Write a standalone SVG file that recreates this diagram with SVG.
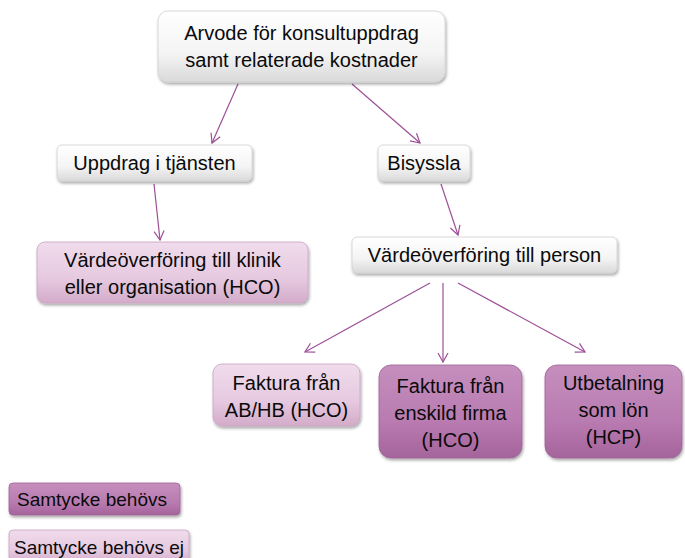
<svg xmlns="http://www.w3.org/2000/svg" width="685" height="558" viewBox="0 0 685 558">
<defs>
<linearGradient id="gw" x1="0" y1="0" x2="0" y2="1"><stop offset="0" stop-color="#ffffff"/><stop offset="0.6" stop-color="#f4f4f4"/><stop offset="1" stop-color="#d9d9d9"/></linearGradient>
<linearGradient id="gl" x1="0" y1="0" x2="0" y2="1"><stop offset="0" stop-color="#f0dcec"/><stop offset="0.6" stop-color="#e6c9e0"/><stop offset="1" stop-color="#d3abc9"/></linearGradient>
<linearGradient id="gd" x1="0" y1="0" x2="0" y2="1"><stop offset="0" stop-color="#c58fbd"/><stop offset="0.6" stop-color="#b97bb1"/><stop offset="1" stop-color="#a5649c"/></linearGradient>
<filter id="sh" x="-10%" y="-20%" width="120%" height="150%"><feDropShadow dx="1" dy="2" stdDeviation="1.5" flood-color="#000" flood-opacity="0.35"/></filter>
<marker id="ar" markerWidth="12" markerHeight="12" refX="10" refY="6" orient="auto" markerUnits="userSpaceOnUse"><polyline points="1,1 10,6 1,11" fill="none" stroke="#9c4f97" stroke-width="1.2"/></marker>
</defs>
<style>
.w{fill:url(#gw);stroke:#d0d0d0;stroke-width:0.8;filter:url(#sh)}
.l{fill:url(#gl);stroke:#c9a3c1;stroke-width:0.8;filter:url(#sh)}
.d{fill:url(#gd);stroke:#9e6296;stroke-width:0.8;filter:url(#sh)}
text{font-family:"Liberation Sans",Arial,sans-serif;font-size:20px;fill:#0a0a0a;text-anchor:middle}
.s{font-size:19px}
.c line{stroke:#9c4f97;stroke-width:1.2;marker-end:url(#ar)}
</style>
<rect width="685" height="558" fill="#fff"/>
<g class="c" id="connectors">
<line x1="238" y1="84" x2="212" y2="143"/>
<line x1="352" y1="84" x2="420" y2="143"/>
<line x1="154" y1="184" x2="160" y2="240"/>
<line x1="441" y1="184" x2="458" y2="235"/>
<line x1="430" y1="283" x2="305" y2="352"/>
<line x1="443" y1="283" x2="443" y2="362"/>
<line x1="458" y1="283" x2="585" y2="352"/>
</g>
<g id="top"><rect class="w" x="158" y="11" width="287" height="71" rx="10"/><text x="301.5" y="40">Arvode för konsultuppdrag</text><text x="301.5" y="67">samt relaterade kostnader</text></g>
<g id="uppdrag"><rect class="w" x="57" y="145" width="195" height="36" rx="5"/><text x="154.5" y="170">Uppdrag i tjänsten</text></g>
<g id="bisyssla"><rect class="w" x="378" y="145" width="92" height="36" rx="5"/><text x="424" y="170">Bisyssla</text></g>
<g id="klinik"><rect class="l" x="37" y="242" width="271" height="61" rx="8"/><text x="172.5" y="267">Värdeöverföring till klinik</text><text x="172.5" y="294">eller organisation (HCO)</text></g>
<g id="person"><rect class="w" x="352" y="237" width="265" height="36" rx="5"/><text x="484.5" y="262">Värdeöverföring till person</text></g>
<g id="abhb"><rect class="l" x="213" y="364" width="147" height="62" rx="9"/><text x="286.5" y="390">Faktura från</text><text x="286.5" y="417">AB/HB (HCO)</text></g>
<g id="enskild"><rect class="d" x="379" y="365" width="143" height="93" rx="12"/><text x="450.5" y="393">Faktura från</text><text x="450.5" y="420">enskild firma</text><text x="450.5" y="447">(HCO)</text></g>
<g id="lon"><rect class="d" x="545" y="365" width="137" height="93" rx="12"/><text x="613.5" y="390">Utbetalning</text><text x="613.5" y="417">som lön</text><text x="613.5" y="444">(HCP)</text></g>
<g id="legend1"><rect class="d" x="9" y="483" width="171" height="32" rx="4"/><text class="s" x="92" y="506">Samtycke behövs</text></g>
<g id="legend2"><rect class="l" x="9" y="530" width="180" height="34" rx="4"/><text class="s" x="99" y="554">Samtycke behövs ej</text></g>
</svg>
